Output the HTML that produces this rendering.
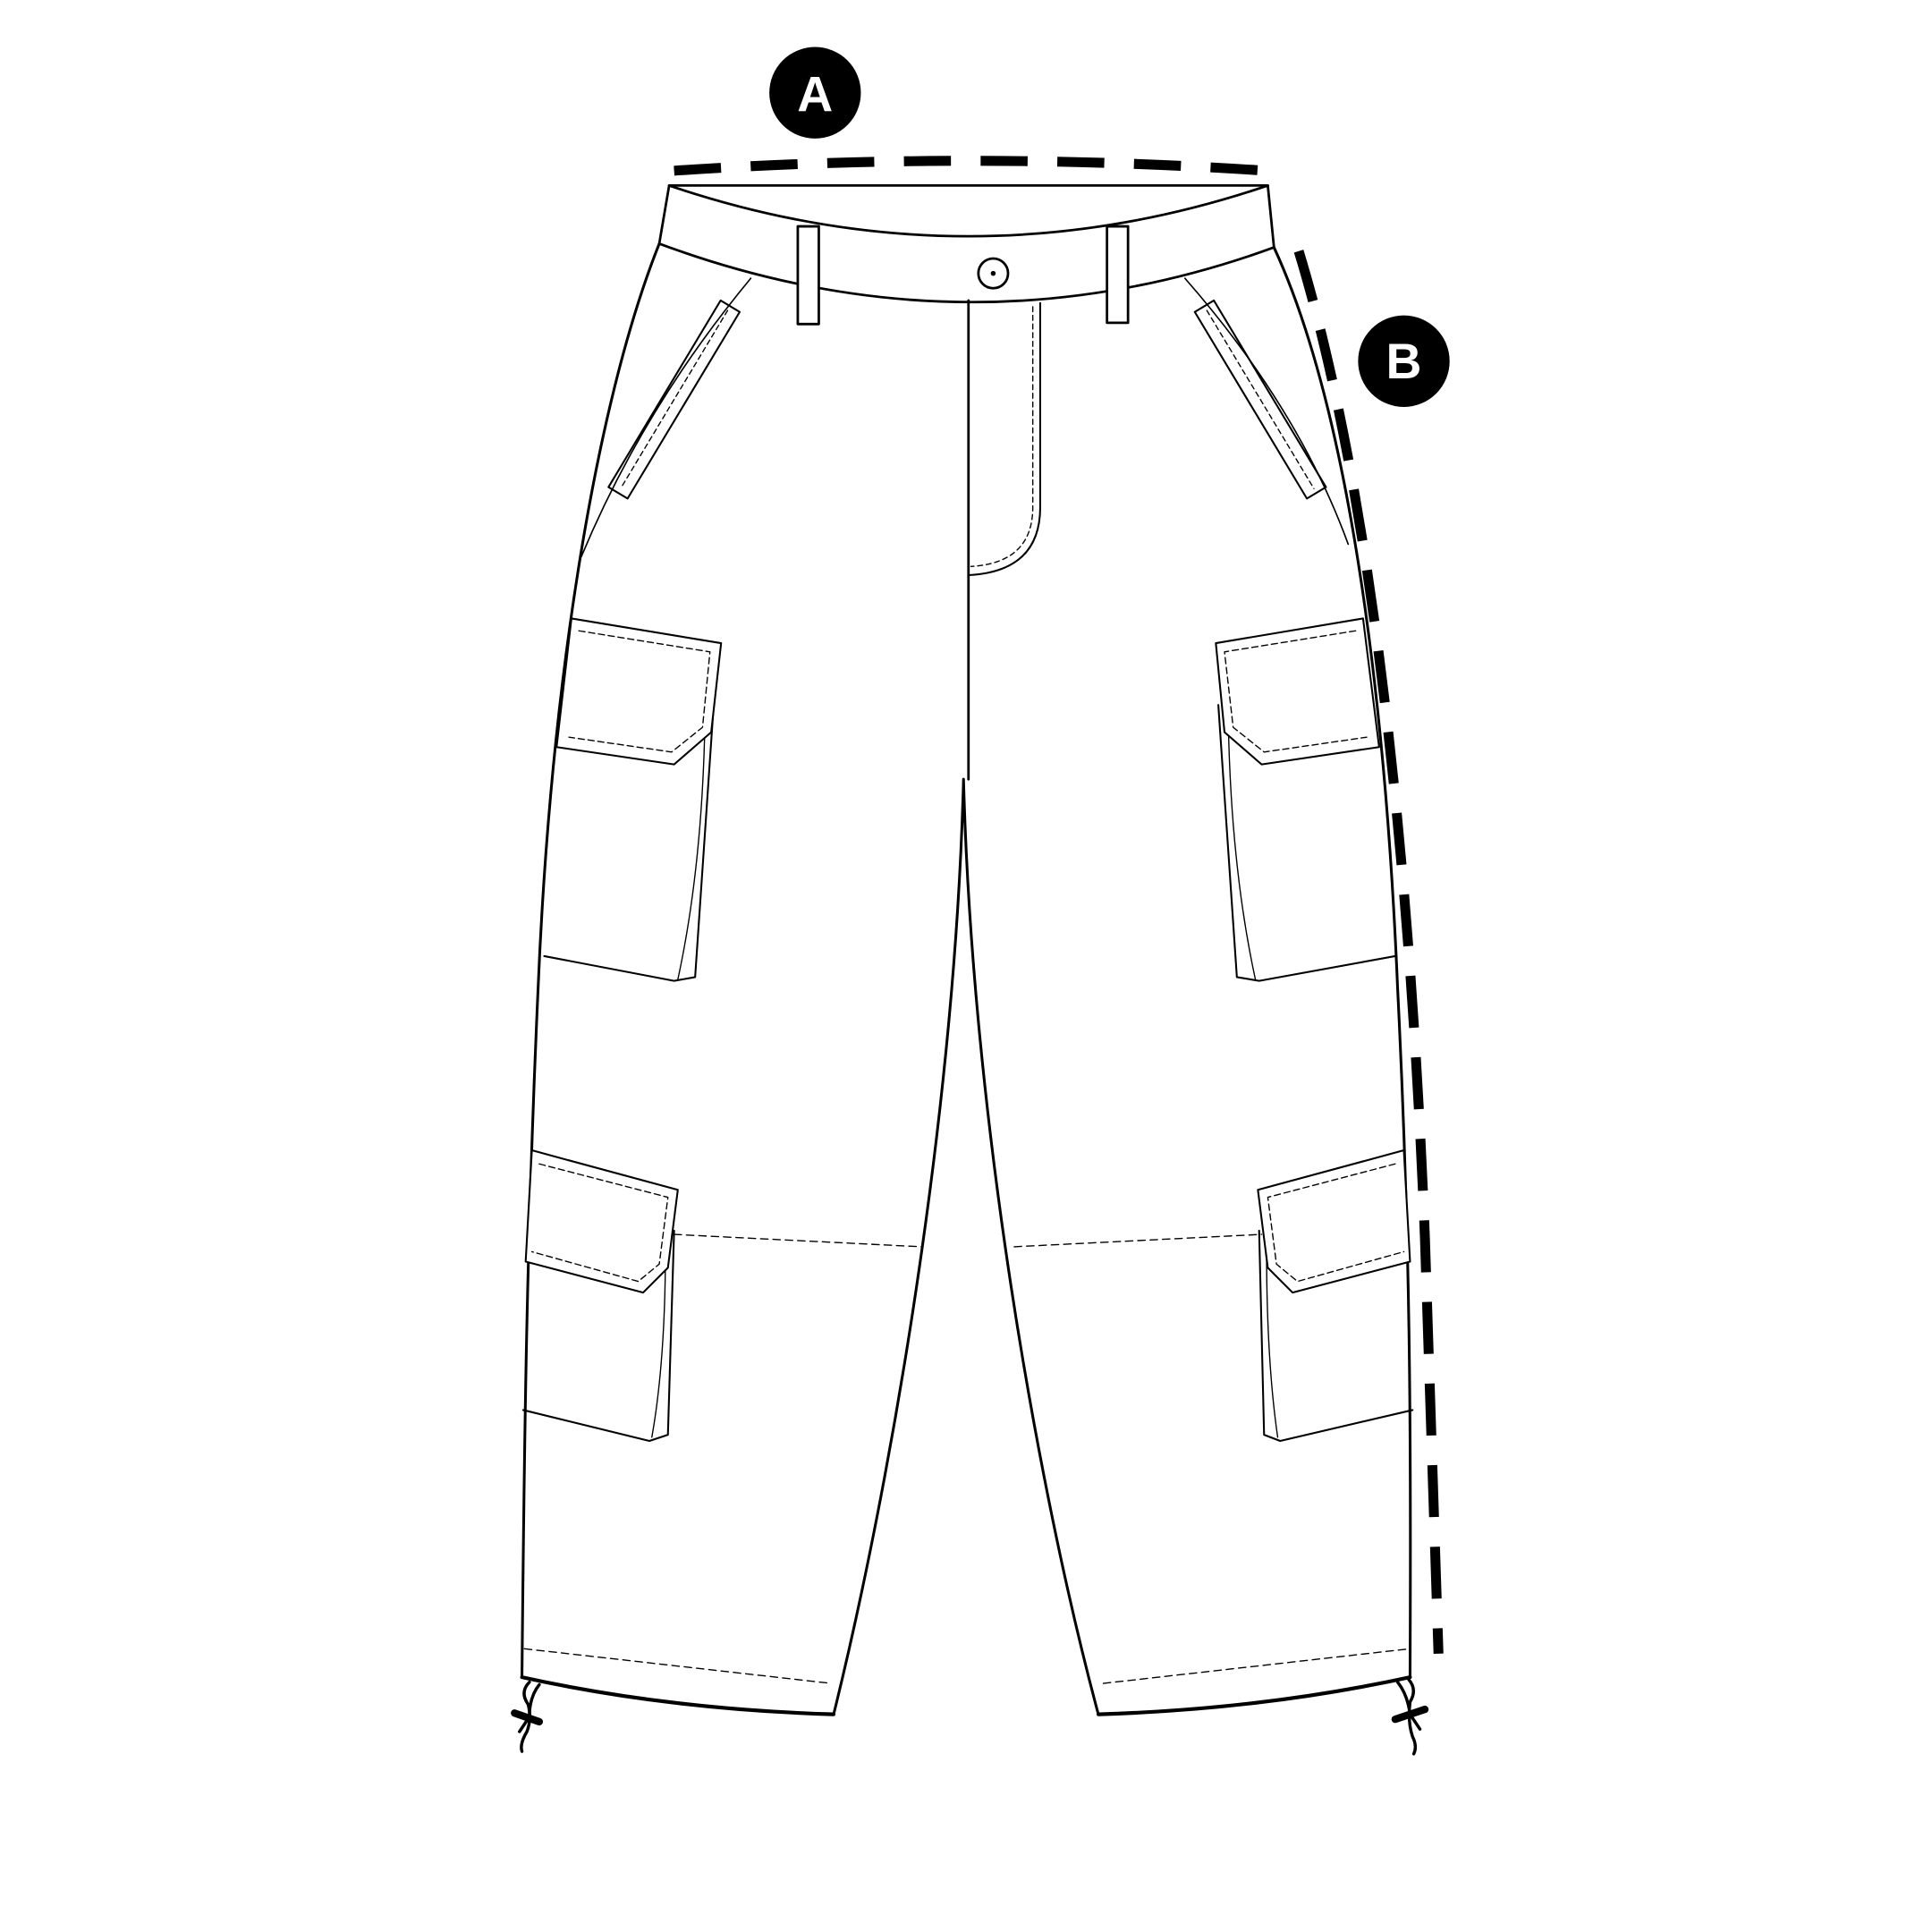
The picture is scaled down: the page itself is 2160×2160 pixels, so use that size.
<!DOCTYPE html>
<html><head><meta charset="utf-8"><style>
html,body{margin:0;padding:0;background:#fff;width:2160px;height:2160px;overflow:hidden}
svg{display:block}
</style></head><body>
<svg width="2160" height="2160" viewBox="0 0 1562 1562" xmlns="http://www.w3.org/2000/svg">
<g fill="none" stroke="#000" stroke-linejoin="round" stroke-linecap="round">
<!-- measurement lines -->
<path d="M545,138 Q783,122 1023,138" stroke-width="8" stroke-dasharray="38,24" stroke-linecap="butt"/>
<path d="M1050,203 C1110,400 1140,700 1152,1000 L1163,1337" stroke-width="8" stroke-dasharray="42,24" stroke-linecap="butt"/>
<!-- waistband -->
<path d="M541,150 L1025,150" stroke-width="2"/>
<path d="M541,150 Q783,232 1025,150" stroke-width="2"/>
<path d="M541,150 L533,197 Q783,290 1030,200 L1025,150" stroke-width="2"/>
<rect x="645" y="183" width="17" height="79" stroke-width="2" fill="#fff"/>
<rect x="895" y="183" width="17" height="78" stroke-width="2" fill="#fff"/>
<circle cx="803" cy="221" r="12" stroke-width="2"/>
<circle cx="803" cy="221" r="2" fill="#000" stroke="none"/>
<!-- outline -->
<path d="M533,197 C480,330 445,560 435,800 C426,1000 424,1150 422,1356" stroke-width="2.2"/>
<path d="M422,1356 Q540,1382 674,1386" stroke-width="3"/>
<path d="M674,1386 C720,1200 772,900 779,630 C786,900 838,1200 888,1386" stroke-width="2.2"/>
<path d="M888,1386 Q1020,1382 1140,1356" stroke-width="3"/>
<path d="M1140,1356 C1141,1150 1140,1000 1130,800 C1120,560 1090,330 1030,200" stroke-width="2.2"/>
<!-- fly -->
<path d="M783,243 L783,630" stroke-width="2"/>
<path d="M841,245 L841,410 Q841,462 783,465" stroke-width="1.5"/>
<path d="M835,248 L835,410 Q835,455 785,458" stroke-width="1" stroke-dasharray="4,3"/>
<!-- slant pockets -->
<path d="M607,225 Q520,330 470,450" stroke-width="1.2"/>
<path d="M958,225 Q1050,330 1090,440" stroke-width="1.2"/>
<g transform="translate(545,323) rotate(31)"><rect x="-9" y="-88" width="18" height="176" stroke-width="1.5"/><line x1="0" y1="-84" x2="0" y2="84" stroke-width="1" stroke-dasharray="4,3"/></g>
<g transform="translate(1019,323) rotate(-31)"><rect x="-9" y="-88" width="18" height="176" stroke-width="1.5"/><line x1="0" y1="-84" x2="0" y2="84" stroke-width="1" stroke-dasharray="4,3"/></g>
<!-- upper cargo left -->
<path d="M440,773 L545,793 L562,790 L577,570" stroke-width="1.5"/>
<path d="M548,792 Q568,700 570,580" stroke-width="1"/>
<path d="M462,500 L583,520 L575,592 L545,618 L450,604 Z" stroke-width="1.5" fill="#fff"/>
<path d="M468,510 L574,527 L568,588 L543,608 L460,596" stroke-width="1" stroke-dasharray="5,3"/>
<!-- upper cargo right -->
<path d="M1128,773 L1018,793 L1000,790 L985,570" stroke-width="1.5"/>
<path d="M1015,792 Q995,700 993,580" stroke-width="1"/>
<path d="M1102,500 L983,520 L990,592 L1020,618 L1115,604 Z" stroke-width="1.5" fill="#fff"/>
<path d="M1096,510 L990,527 L997,588 L1022,608 L1105,596" stroke-width="1" stroke-dasharray="5,3"/>
<!-- lower cargo left -->
<path d="M423,1140 L525,1165 L540,1160 L545,995" stroke-width="1.5"/>
<path d="M527,1162 Q538,1100 538,1010" stroke-width="1"/>
<path d="M430,930 L548,962 L540,1025 L520,1045 L425,1020 Z" stroke-width="1.5" fill="#fff"/>
<path d="M436,941 L540,968 L533,1022 L516,1036 L430,1012" stroke-width="1" stroke-dasharray="5,3"/>
<!-- lower cargo right -->
<path d="M1142,1140 L1035,1165 L1022,1160 L1018,995" stroke-width="1.5"/>
<path d="M1033,1162 Q1024,1100 1024,1010" stroke-width="1"/>
<path d="M1135,930 L1017,962 L1025,1025 L1045,1045 L1140,1020 Z" stroke-width="1.5" fill="#fff"/>
<path d="M1128,941 L1025,968 L1032,1022 L1049,1036 L1135,1012" stroke-width="1" stroke-dasharray="5,3"/>
<!-- knee & hem stitches -->
<path d="M545,998 L745,1008" stroke-width="1" stroke-dasharray="6,4"/>
<path d="M820,1008 L1020,998" stroke-width="1" stroke-dasharray="6,4"/>
<path d="M424,1333 L672,1361" stroke-width="1" stroke-dasharray="6,4"/>
<path d="M892,1361 L1140,1333" stroke-width="1" stroke-dasharray="6,4"/>
<!-- drawstrings -->
<path d="M428,1360 Q420,1368 427,1378 Q430,1390 426,1400 Q420,1410 422,1416" stroke-width="2.5"/>
<path d="M436,1362 Q428,1372 428,1388 L420,1400" stroke-width="2.5"/>
<path d="M416,1385 L436,1392" stroke-width="6"/>
<path d="M1139,1358 Q1146,1366 1140,1376 Q1138,1392 1142,1404 Q1146,1412 1143,1418" stroke-width="2.5"/>
<path d="M1130,1360 Q1138,1370 1140,1386 L1148,1398" stroke-width="2.5"/>
<path d="M1128,1390 L1152,1382" stroke-width="6"/>
</g>
<circle cx="659" cy="75" r="37" fill="#000"/>
<text x="659" y="90" text-anchor="middle" font-family="Liberation Sans, sans-serif" font-weight="bold" font-size="40" fill="#fff">A</text>
<circle cx="1135" cy="292" r="37" fill="#000"/>
<text x="1135" y="306" text-anchor="middle" font-family="Liberation Sans, sans-serif" font-weight="bold" font-size="40" fill="#fff">B</text>
</svg>
</body></html>
